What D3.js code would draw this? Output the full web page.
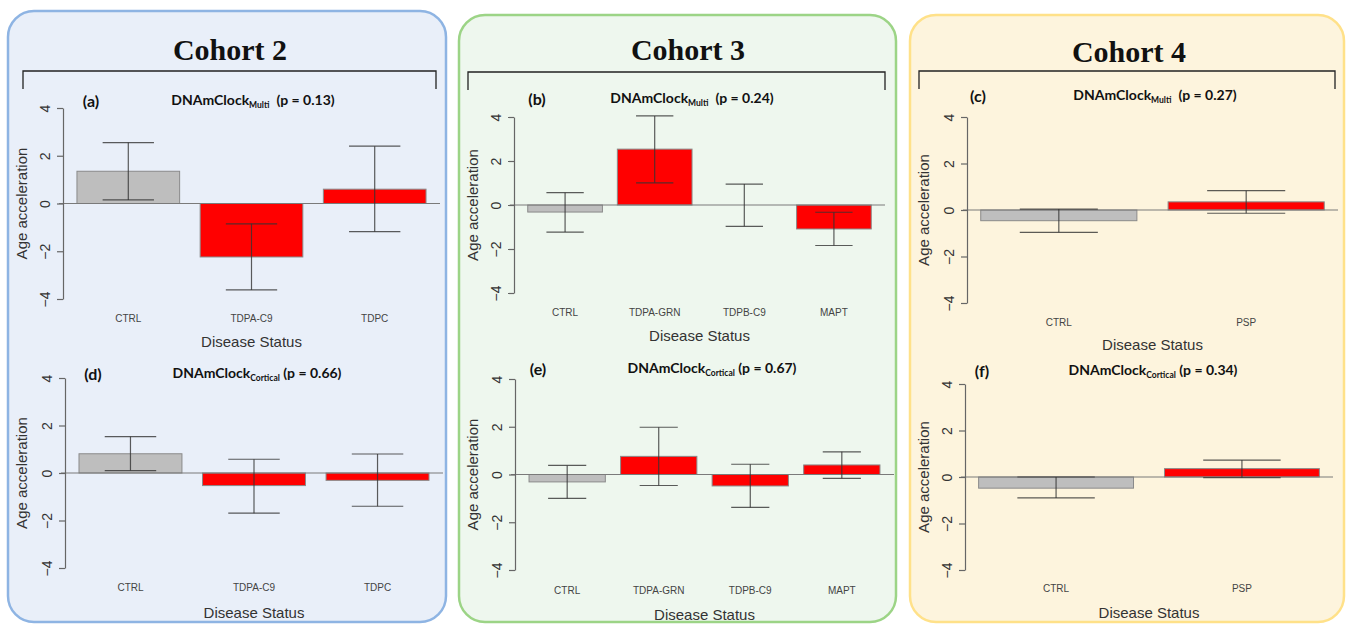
<!DOCTYPE html>
<html>
<head>
<meta charset="utf-8">
<script src="https://cdn.jsdelivr.net/npm/d3@7/dist/d3.min.js"></script>
<style>
  body { margin: 0; background: #fff; }
  svg { display: block; }
</style>
</head>
<body>
<svg id="chart" width="1347" height="624"></svg>
<script>
// tick values shared by every panel
const yTicks = [-4, -2, 0, 2, 4];

// groups per cohort
const cohort2Groups = ['CTRL', 'TDPA-C9', 'TDPC'];
const cohort3Groups = ['CTRL', 'TDPA-GRN', 'TDPB-C9', 'MAPT'];
const cohort4Groups = ['CTRL', 'PSP'];

// DNAmClock Multi: mean, lower and upper error
const multiMean2 = [1.35, -2.24, 0.6];
const multiLow2 = [0.15, -3.62, -1.18];
const multiHigh2 = [2.55, -0.85, 2.4];
const multiMean3 = [-0.32, 2.54, 0.0, -1.09];
const multiLow3 = [-1.23, 1.01, -0.97, -1.84];
const multiHigh3 = [0.56, 4.05, 0.95, -0.33];
const multiMean4 = [-0.46, 0.35];
const multiLow4 = [-0.96, -0.14];
const multiHigh4 = [0.04, 0.83];

// DNAmClock Cortical
const cortMean2 = [0.81, -0.53, -0.31];
const cortLow2 = [0.1, -1.69, -1.4];
const cortHigh2 = [1.53, 0.58, 0.8];
const cortMean3 = [-0.31, 0.76, -0.48, 0.4];
const cortLow3 = [-1.0, -0.46, -1.38, -0.16];
const cortHigh3 = [0.38, 1.98, 0.43, 0.95];
const cortMean4 = [-0.48, 0.36];
const cortLow4 = [-0.9, -0.03];
const cortHigh4 = [0.0, 0.73];

const pValues = ['0.13', '0.24', '0.27', '0.66', '0.67', '0.34'];
const panelLetters = ['(a)', '(b)', '(c)', '(d)', '(e)', '(f)'];
const cohortTitles = ['Cohort 2', 'Cohort 3', 'Cohort 4'];

const svg = d3.select('#chart');

// cohort frames
const frames = [
  { x: 8, y: 11, w: 438, h: 611, fill: '#e9eff9', stroke: '#8eb4e3', cx: 230, by: 60, bl: 23, br: 436, bt: 71 },
  { x: 459, y: 15, w: 437, h: 607, fill: '#eef7ee', stroke: '#9cd486', cx: 688, by: 60, bl: 468, br: 885, bt: 72 },
  { x: 910, y: 15, w: 434, h: 607, fill: '#fdf4dd', stroke: '#ffe189', cx: 1129, by: 62, bl: 919, br: 1335, bt: 71 },
];

frames.forEach((f, i) => {
  svg.append('rect')
    .attr('x', f.x).attr('y', f.y)
    .attr('width', f.w).attr('height', f.h)
    .attr('rx', 26).attr('ry', 26)
    .attr('fill', f.fill)
    .attr('stroke', f.stroke)
    .attr('stroke-width', 2.5);

  svg.append('text')
    .attr('x', f.cx).attr('y', f.by)
    .attr('text-anchor', 'middle')
    .attr('font-family', '"Liberation Serif", serif')
    .attr('font-weight', 'bold')
    .attr('font-size', 30)
    .attr('fill', '#111')
    .text(cohortTitles[i]);

  svg.append('path')
    .attr('d', `M${f.bl},${f.bt + 18}V${f.bt}H${f.br}V${f.bt + 18}`)
    .attr('fill', 'none')
    .attr('stroke', '#222')
    .attr('stroke-width', 1.3);
});

const panels = [
  { groups: cohort2Groups, mean: multiMean2, low: multiLow2, high: multiHigh2, clock: 'Multi',
    x0: 63, x1: 440, yTop: 108, yBot: 299, titleX: 253, titleY: 100, letterX: 91, yLabX: 21, catY: 318, dsY: 341 },
  { groups: cohort3Groups, mean: multiMean3, low: multiLow3, high: multiHigh3, clock: 'Multi',
    x0: 514, x1: 885, yTop: 117, yBot: 293, titleX: 692, titleY: 98, letterX: 537, yLabX: 472, catY: 312, dsY: 335 },
  { groups: cohort4Groups, mean: multiMean4, low: multiLow4, high: multiHigh4, clock: 'Multi',
    x0: 967, x1: 1338, yTop: 117, yBot: 303, titleX: 1155, titleY: 95, letterX: 978, yLabX: 923, catY: 322, dsY: 344 },
  { groups: cohort2Groups, mean: cortMean2, low: cortLow2, high: cortHigh2, clock: 'Cortical',
    x0: 65, x1: 443, yTop: 378, yBot: 568, titleX: 257, titleY: 373, letterX: 93, yLabX: 21, catY: 587, dsY: 612 },
  { groups: cohort3Groups, mean: cortMean3, low: cortLow3, high: cortHigh3, clock: 'Cortical',
    x0: 515, x1: 894, yTop: 379, yBot: 570, titleX: 712, titleY: 368, letterX: 538, yLabX: 472, catY: 590, dsY: 614 },
  { groups: cohort4Groups, mean: cortMean4, low: cortLow4, high: cortHigh4, clock: 'Cortical',
    x0: 965, x1: 1333, yTop: 384, yBot: 570, titleX: 1153, titleY: 370, letterX: 982, yLabX: 923, catY: 588, dsY: 612 },
];

panels.forEach((p, i) => {
  const g = svg.append('g');

  // R barplot: bars fill the span, plot region extends 4% each side
  const ext = (p.x1 - p.x0) * 0.04 / 1.08;
  const x = d3.scaleBand()
    .domain(p.groups)
    .range([p.x0 + ext, p.x1 - ext])
    .paddingInner(1 / 6)
    .paddingOuter(0);

  const y = d3.scaleLinear().domain([-4, 4]).range([p.yBot, p.yTop]);

  // bars
  g.selectAll('rect.bar')
    .data(p.groups)
    .join('rect')
    .attr('class', 'bar')
    .attr('x', (d) => x(d))
    .attr('width', x.bandwidth())
    .attr('y', (d, j) => y(Math.max(0, p.mean[j])))
    .attr('height', (d, j) => Math.abs(y(p.mean[j]) - y(0)))
    .attr('fill', (d, j) => (j === 0 ? '#bebebe' : '#ff0000'))
    .attr('stroke', '#8a8a8a')
    .attr('stroke-width', 1);

  // zero line
  g.append('line')
    .attr('x1', p.x0 - 4).attr('x2', p.x1)
    .attr('y1', y(0)).attr('y2', y(0))
    .attr('stroke', '#7a7a7a')
    .attr('stroke-width', 1.2);

  // error bars
  const cap = x.bandwidth() * 0.25;
  const err = g.selectAll('g.err')
    .data(p.groups)
    .join('g')
    .attr('class', 'err')
    .attr('stroke', '#333')
    .attr('stroke-opacity', 0.8)
    .attr('stroke-width', 1.2);
  err.append('line')
    .attr('x1', (d) => x(d) + x.bandwidth() / 2)
    .attr('x2', (d) => x(d) + x.bandwidth() / 2)
    .attr('y1', (d, j) => y(p.low[j]))
    .attr('y2', (d, j) => y(p.high[j]));
  err.append('line')
    .attr('x1', (d) => x(d) + x.bandwidth() / 2 - cap)
    .attr('x2', (d) => x(d) + x.bandwidth() / 2 + cap)
    .attr('y1', (d, j) => y(p.low[j]))
    .attr('y2', (d, j) => y(p.low[j]));
  err.append('line')
    .attr('x1', (d) => x(d) + x.bandwidth() / 2 - cap)
    .attr('x2', (d) => x(d) + x.bandwidth() / 2 + cap)
    .attr('y1', (d, j) => y(p.high[j]))
    .attr('y2', (d, j) => y(p.high[j]));

  // y axis, labels rotated like R's default
  g.append('g')
    .attr('transform', `translate(${p.x0},0)`)
    .call(d3.axisLeft(y).tickValues(yTicks).tickSize(6).tickSizeOuter(0).tickFormat(d3.format('d')))
    .call((a) => a.selectAll('path, line').attr('stroke', '#666').attr('stroke-width', 1.2))
    .call((a) =>
      a.selectAll('text')
        .attr('x', null).attr('dy', null)
        .attr('transform', 'translate(-18,0) rotate(-90)')
        .attr('text-anchor', 'middle')
        .attr('dominant-baseline', 'central')
        .attr('font-family', '"Liberation Sans", Arial, sans-serif')
        .attr('font-size', 14)
        .attr('fill', '#333'),
    );

  // y axis title
  g.append('text')
    .attr('transform', `translate(${p.yLabX},${y(0)}) rotate(-90)`)
    .attr('text-anchor', 'middle')
    .attr('dominant-baseline', 'central')
    .attr('font-family', '"Liberation Sans", Arial, sans-serif')
    .attr('font-size', 15)
    .attr('fill', '#333')
    .text('Age acceleration');

  // category labels
  g.selectAll('text.cat')
    .data(p.groups)
    .join('text')
    .attr('class', 'cat')
    .attr('x', (d) => x(d) + x.bandwidth() / 2)
    .attr('y', p.catY)
    .attr('text-anchor', 'middle')
    .attr('dominant-baseline', 'central')
    .attr('font-family', '"Liberation Sans", Arial, sans-serif')
    .attr('font-size', 10)
    .attr('fill', '#444')
    .text((d) => d);

  g.append('text')
    .attr('x', (p.x0 + p.x1) / 2)
    .attr('y', p.dsY)
    .attr('text-anchor', 'middle')
    .attr('dominant-baseline', 'central')
    .attr('font-family', '"Liberation Sans", Arial, sans-serif')
    .attr('font-size', 15)
    .attr('fill', '#333')
    .text('Disease Status');

  // panel letter and title
  g.append('text')
    .attr('x', p.letterX).attr('y', p.titleY)
    .attr('text-anchor', 'middle')
    .attr('dominant-baseline', 'central')
    .attr('font-family', 'Lato, "Open Sans", sans-serif')
    .attr('font-weight', 'bold')
    .attr('font-size', 16)
    .attr('fill', '#111')
    .text(panelLetters[i]);

  const t = g.append('text')
    .attr('x', p.titleX).attr('y', p.titleY + 5)
    .attr('text-anchor', 'middle')
    .attr('font-family', 'Lato, "Open Sans", sans-serif')
    .attr('font-weight', 'bold')
    .attr('font-size', 14)
    .attr('fill', '#111');
  t.append('tspan').text('DNAmClock');
  t.append('tspan').attr('font-size', 8.5).attr('dy', 3).text(p.clock);
  t.append('tspan').attr('dy', -3).text((p.clock === 'Multi' ? '\u2002' : ' ') + `(p = ${pValues[i]})`);
});
</script>
</body>
</html>
